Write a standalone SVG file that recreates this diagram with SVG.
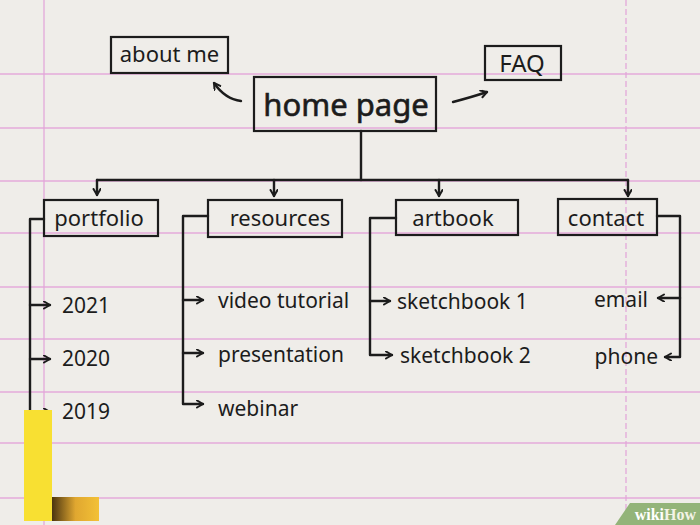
<svg xmlns="http://www.w3.org/2000/svg" width="700" height="525" viewBox="0 0 700 525">
<style>
.t{font-family:"Noto Sans","DejaVu Sans",sans-serif;fill:#1c1c1c}
.box{fill:none;stroke:#1c1c1c;stroke-width:2.2}
.c{fill:none;stroke:#1c1c1c;stroke-width:2.4;stroke-linecap:round;stroke-linejoin:round}
.pk{stroke:#e4a6da;stroke-width:1.8;opacity:0.7}
</style>
<defs>
<marker id="ah" markerWidth="10" markerHeight="10" refX="7" refY="4" orient="auto" markerUnits="userSpaceOnUse">
<path d="M1,0.5 L7,4 L1,7.5" fill="none" stroke="#1c1c1c" stroke-width="2" stroke-linecap="round" stroke-linejoin="round"/>
</marker>
<linearGradient id="og" x1="0" x2="1" y1="0" y2="0">
<stop offset="0" stop-color="#4a3410"/><stop offset="0.5" stop-color="#e0a730"/><stop offset="1" stop-color="#f3c136"/>
</linearGradient>
</defs>
<rect width="700" height="525" fill="#efede9"/>
<g id="paper-lines">
<line class="pk" x1="0" y1="74" x2="700" y2="74"/>
<line class="pk" x1="0" y1="128" x2="700" y2="128"/>
<line class="pk" x1="0" y1="181" x2="700" y2="181"/>
<line class="pk" x1="0" y1="233" x2="700" y2="233"/>
<line class="pk" x1="0" y1="287" x2="700" y2="287"/>
<line class="pk" x1="0" y1="339" x2="700" y2="339"/>
<line class="pk" x1="0" y1="392" x2="700" y2="392"/>
<line class="pk" x1="0" y1="443" x2="700" y2="443"/>
<line class="pk" x1="0" y1="498" x2="700" y2="498"/>
<line class="pk" x1="44" y1="0" x2="44" y2="525" stroke-width="1.4" opacity="0.55"/>
<line class="pk" x1="626" y1="0" x2="626" y2="525" stroke-width="1" stroke-dasharray="6 3" opacity="0.6"/>
</g>
<g id="connectors">
<path class="c" d="M241,101 Q225,99 214,83" marker-end="url(#ah)"/>
<path class="c" d="M453,102 Q472,97 487,92" marker-end="url(#ah)"/>
<path class="c" d="M361,131 V180"/>
<path class="c" d="M97,180 H628"/>
<path class="c" d="M97,180 V195" marker-end="url(#ah)"/>
<path class="c" d="M274,180 V196" marker-end="url(#ah)"/>
<path class="c" d="M439,180 V196" marker-end="url(#ah)"/>
<path class="c" d="M628,180 V196" marker-end="url(#ah)"/>
<path class="c" d="M44,219 H30 V430"/>
<path class="c" d="M30,305 H50" marker-end="url(#ah)"/>
<path class="c" d="M30,359 H50" marker-end="url(#ah)"/>
<path class="c" d="M30,412 H50" marker-end="url(#ah)"/>
<path class="c" d="M208,216 H183 V404 H203" marker-end="url(#ah)"/>
<path class="c" d="M183,300 H203" marker-end="url(#ah)"/>
<path class="c" d="M183,353 H203" marker-end="url(#ah)"/>
<path class="c" d="M396,218 H370 V355 H392" marker-end="url(#ah)"/>
<path class="c" d="M370,301 H390" marker-end="url(#ah)"/>
<path class="c" d="M657,216 H680 V357 H665" marker-end="url(#ah)"/>
<path class="c" d="M680,298 H658" marker-end="url(#ah)"/>
</g>
<g id="about-me"><rect class="box" x="111" y="37" width="117" height="36"/><text class="t" x="169.5" y="62" font-size="22" text-anchor="middle">about me</text></g>
<g id="home-page"><rect class="box" x="254" y="77" width="182" height="54" stroke-width="2.6"/><text class="t" x="346" y="116" font-size="31" text-anchor="middle" stroke="#1c1c1c" stroke-width="0.6">home page</text></g>
<g id="faq"><rect class="box" x="485" y="46" width="76" height="34"/><text class="t" x="522" y="72" font-size="24" text-anchor="middle">FAQ</text></g>
<g id="portfolio"><rect class="box" x="44" y="200" width="114" height="36"/><text class="t" x="99" y="226" font-size="22" text-anchor="middle">portfolio</text></g>
<g id="resources"><rect class="box" x="208" y="200" width="134" height="37"/><text class="t" x="280" y="226" font-size="22" text-anchor="middle">resources</text></g>
<g id="artbook"><rect class="box" x="396" y="200" width="122" height="35"/><text class="t" x="453" y="226" font-size="22" text-anchor="middle">artbook</text></g>
<g id="contact"><rect class="box" x="558" y="199" width="99" height="36"/><text class="t" x="606" y="226" font-size="22" text-anchor="middle">contact</text></g>
<g id="y2021"><text class="t" x="62" y="313" font-size="21">2021</text></g>
<g id="y2020"><text class="t" x="62" y="366" font-size="21">2020</text></g>
<g id="y2019"><text class="t" x="62" y="419" font-size="21">2019</text></g>
<g id="video-tutorial"><text class="t" x="218" y="308" font-size="21">video tutorial</text></g>
<g id="presentation"><text class="t" x="218" y="362" font-size="21">presentation</text></g>
<g id="webinar"><text class="t" x="218" y="416" font-size="21">webinar</text></g>
<g id="sketchbook1"><text class="t" x="397" y="309" font-size="21">sketchbook 1</text></g>
<g id="sketchbook2"><text class="t" x="400" y="363" font-size="21">sketchbook 2</text></g>
<g id="email"><text class="t" x="648" y="307" font-size="21" text-anchor="end">email</text></g>
<g id="phone"><text class="t" x="658" y="364" font-size="21" text-anchor="end">phone</text></g>
<g id="logo-corner">
<rect x="24" y="410" width="28" height="111" fill="#f8e032"/>
<rect x="52" y="497" width="47" height="24" fill="url(#og)"/>
</g>
<g id="wikihow">
<path d="M630,503 H700 V525 H615 Z" fill="#93b479"/>
<text x="696" y="520" font-family="'Liberation Serif',serif" font-weight="bold" font-size="16" text-anchor="end" fill="#ffffff">wiki<tspan fill="#f3f3e6">How</tspan></text>
</g>
</svg>
